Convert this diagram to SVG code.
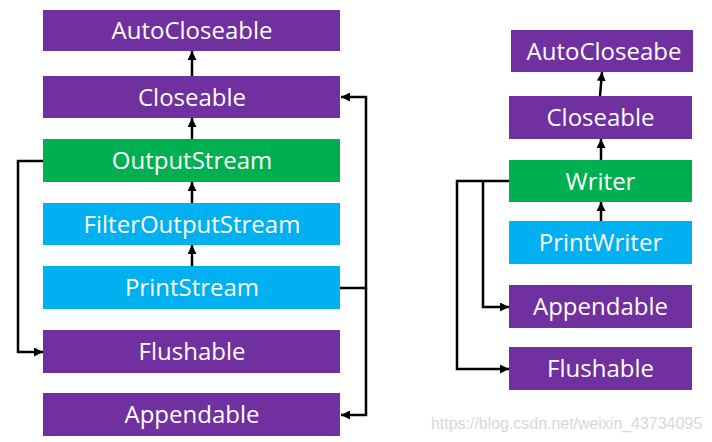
<svg xmlns="http://www.w3.org/2000/svg" width="712" height="442" viewBox="0 0 712 442">
<style>
.p{fill:#7030A0}.g{fill:#00B050}.b{fill:#00B0F0}
text{font-family:"Open Sans","Noto Sans",sans-serif;font-size:24px;fill:#fff;text-anchor:middle}
.c{fill:none;stroke:#000;stroke-width:2.5}
.w{font-family:"Liberation Sans",Arial,sans-serif;font-size:16px;fill:#d8d8d8;text-anchor:start}
</style>
<defs>
<marker id="a" viewBox="0 0 10 10" refX="10" refY="5" markerWidth="3.6" markerHeight="3.6" orient="auto" markerUnits="strokeWidth">
<path d="M0,0L10,5L0,10z" fill="#000"/>
</marker>
</defs>
<rect width="712" height="442" fill="#fff"/>
<g id="l-autocloseable"><rect class="p" x="43" y="10" width="297" height="41"/><text x="192" y="39">AutoCloseable</text></g>
<g id="l-closeable"><rect class="p" x="43" y="76" width="297" height="42"/><text x="192" y="105.5">Closeable</text></g>
<g id="l-outputstream"><rect class="g" x="43" y="139" width="297" height="43"/><text x="192" y="169">OutputStream</text></g>
<g id="l-filteroutputstream"><rect class="b" x="43" y="203" width="297" height="42"/><text x="192" y="232.5">FilterOutputStream</text></g>
<g id="l-printstream"><rect class="b" x="43" y="266" width="297" height="43"/><text x="192" y="296">PrintStream</text></g>
<g id="l-flushable"><rect class="p" x="43" y="330" width="297" height="43"/><text x="192" y="360">Flushable</text></g>
<g id="l-appendable"><rect class="p" x="43" y="393" width="297" height="43"/><text x="192" y="423">Appendable</text></g>
<g id="r-autocloseabe"><rect class="p" x="511" y="30" width="182" height="42"/><text x="604" y="59.5">AutoCloseabe</text></g>
<g id="r-closeable"><rect class="p" x="509" y="96" width="183" height="43"/><text x="600.5" y="126">Closeable</text></g>
<g id="r-writer"><rect class="g" x="509" y="160" width="183" height="42"/><text x="600.5" y="189.5">Writer</text></g>
<g id="r-printwriter"><rect class="b" x="509" y="221" width="183" height="43"/><text x="600.5" y="251">PrintWriter</text></g>
<g id="r-appendable"><rect class="p" x="509" y="285" width="183" height="43"/><text x="600.5" y="315">Appendable</text></g>
<g id="r-flushable"><rect class="p" x="509" y="347" width="183" height="43"/><text x="600.5" y="377">Flushable</text></g>
<g id="connectors">
<path class="c" d="M192,76V51" marker-end="url(#a)"/>
<path class="c" d="M192,139V118" marker-end="url(#a)"/>
<path class="c" d="M192,203V182" marker-end="url(#a)"/>
<path class="c" d="M192,266V245" marker-end="url(#a)"/>
<path class="c" d="M43,161H18V352H43" marker-end="url(#a)"/>
<path class="c" d="M340,288H366V97H341" marker-end="url(#a)"/>
<path class="c" d="M366,288V415H341" marker-end="url(#a)"/>
<path class="c" d="M600,96L602,72" marker-end="url(#a)"/>
<path class="c" d="M601,160V139" marker-end="url(#a)"/>
<path class="c" d="M601,221V202" marker-end="url(#a)"/>
<path class="c" d="M509,181H457V369H509" marker-end="url(#a)"/>
<path class="c" d="M483,181V307H509" marker-end="url(#a)"/>
</g>
<text class="w" x="431" y="429" textLength="271" lengthAdjust="spacingAndGlyphs">https://blog.csdn.net/weixin_43734095</text>
</svg>
